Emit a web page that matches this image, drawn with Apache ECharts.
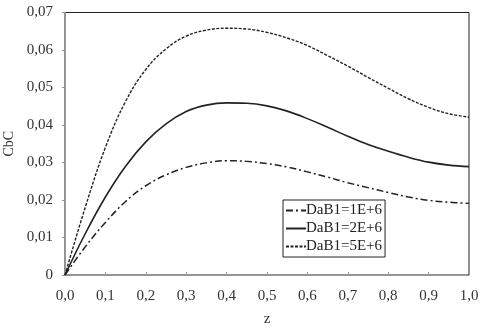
<!DOCTYPE html>
<html>
<head>
<meta charset="utf-8">
<script src="https://cdn.jsdelivr.net/npm/echarts@6/dist/echarts.min.js"></script>
<style>
html, body { margin: 0; padding: 0; background: #fff; }
#chart { width: 481px; height: 329px; }
</style>
</head>
<body>
<div id="chart"></div>
<script>
var zValues = [0, 0.05, 0.1, 0.15, 0.2, 0.25, 0.3, 0.35, 0.4, 0.45, 0.5, 0.55, 0.6, 0.65, 0.7, 0.75, 0.8, 0.85, 0.9, 0.95, 1.0];
var dab1e6 = [0, 0.0075, 0.0140, 0.0196, 0.0238, 0.0267, 0.0287, 0.0299, 0.0305, 0.0303, 0.0297, 0.0288, 0.0275, 0.0261, 0.0246, 0.0233, 0.0220, 0.0208, 0.0199, 0.0194, 0.0191];
var dab2e6 = [0, 0.0110, 0.0208, 0.0290, 0.0355, 0.0403, 0.0436, 0.0453, 0.0459, 0.0458, 0.0451, 0.0437, 0.0417, 0.0394, 0.0370, 0.0348, 0.0330, 0.0314, 0.0301, 0.0293, 0.0289];
var dab5e6 = [0, 0.0180, 0.0340, 0.0463, 0.0548, 0.0603, 0.0637, 0.0653, 0.0658, 0.0656, 0.0647, 0.0632, 0.0612, 0.0585, 0.0557, 0.0527, 0.0498, 0.0470, 0.0447, 0.0430, 0.0421];
var seriesNames = ['DaB1=1E+6', 'DaB1=2E+6', 'DaB1=5E+6'];

function pairs(ys) {
    return zValues.map(function (z, i) { return [z, ys[i]]; });
}

var font = "'Liberation Serif', 'Times New Roman', serif";

var option = {
    animation: false,
    backgroundColor: '#fff',
    textStyle: { fontFamily: font },
    grid: {
        left: 65,
        right: 12,
        top: 12.5,
        bottom: 54,
        outerBoundsMode: 'none',
        show: true,
        borderColor: '#222',
        borderWidth: 1
    },
    legend: {
        orient: 'vertical',
        left: 283,
        top: 200,
        data: seriesNames,
        itemWidth: 20,
        itemHeight: 10,
        itemGap: 3,
        padding: [3, 3, 3, 2],
        borderColor: '#222',
        borderWidth: 1,
        itemStyle: { opacity: 0 },
        textStyle: { fontFamily: font, fontSize: 15, color: '#222', padding: [0, 0, 0, -5] }
    },
    xAxis: {
        type: 'value',
        min: 0,
        max: 1,
        interval: 0.1,
        name: 'z',
        nameLocation: 'middle',
        nameGap: 37,
        nameTextStyle: { fontFamily: font, fontSize: 15, color: '#333' },
        axisLine: { lineStyle: { color: '#999' } },
        axisTick: { inside: true, length: 3, lineStyle: { color: '#999' } },
        splitLine: { show: false },
        axisLabel: {
            fontFamily: font, fontSize: 15, color: '#333', margin: 14,
            formatter: function (v) { return v.toFixed(1).replace('.', ','); }
        }
    },
    yAxis: {
        type: 'value',
        min: 0,
        max: 0.07,
        interval: 0.01,
        name: 'CbC',
        nameLocation: 'middle',
        nameGap: 38,
        nameTextStyle: { fontFamily: font, fontSize: 14, color: '#333' },
        axisLine: { show: true, lineStyle: { color: '#999' } },
        axisTick: { show: true, length: 3, lineStyle: { color: '#999' } },
        splitLine: { show: false },
        axisLabel: {
            fontFamily: font, fontSize: 15, color: '#333', margin: 12,
            formatter: function (v) { return v === 0 ? '0' : v.toFixed(2).replace('.', ','); }
        }
    },
    series: [
        {
            name: seriesNames[0],
            type: 'line',
            smooth: 0.4,
            symbol: 'none',
            data: pairs(dab1e6),
            itemStyle: { color: '#222' },
            lineStyle: { color: '#222', width: 1.5, type: [7, 3, 2, 3] }
        },
        {
            name: seriesNames[1],
            type: 'line',
            smooth: 0.4,
            symbol: 'none',
            data: pairs(dab2e6),
            itemStyle: { color: '#222' },
            lineStyle: { color: '#222', width: 1.6 }
        },
        {
            name: seriesNames[2],
            type: 'line',
            smooth: 0.4,
            symbol: 'none',
            data: pairs(dab5e6),
            itemStyle: { color: '#222' },
            lineStyle: { color: '#222', width: 1.4, type: [3, 1.5] }
        }
    ]
};

var chart = echarts.init(document.getElementById('chart'));
chart.setOption(option);
</script>
</body>
</html>
